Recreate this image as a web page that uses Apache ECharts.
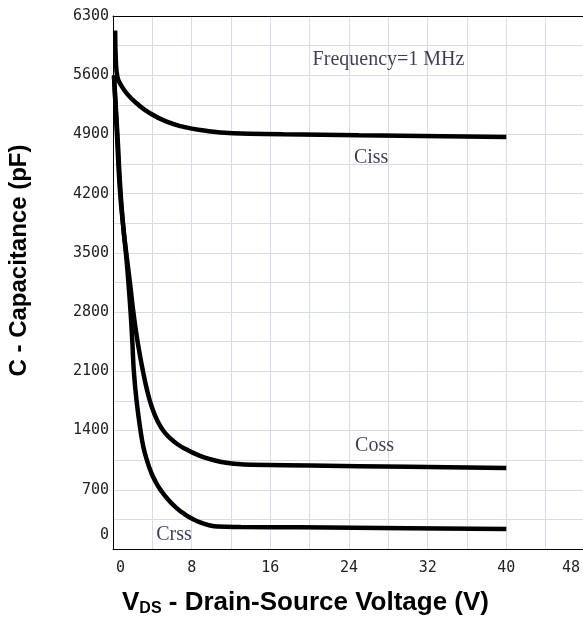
<!DOCTYPE html>
<html>
<head>
<meta charset="utf-8">
<script src="https://cdn.jsdelivr.net/npm/echarts@6/dist/echarts.min.js"></script>
<style>
html,body{margin:0;padding:0;background:#fff;}
#chart{width:583px;height:624px;}
</style>
</head>
<body>
<div id="chart"></div>
<script>
// V_DS (V) vs capacitance (pF)
const ciss = [[0.22,6130],[0.3,5750],[0.45,5580],[0.71,5504],[1.39,5386],[2.4,5268],[3.76,5150],[5.46,5051],[7.1,4992],[8.85,4953],[12.2,4914],[17.3,4902],[25,4890],[40,4870]];
const coss = [[0.1,5600],[0.4,4900],[0.7,4250],[1.05,3800],[1.4,3450],[1.75,3120],[2.07,2800],[2.5,2450],[3.05,2100],[3.5,1860],[4.0,1660],[4.5,1520],[5.1,1400],[5.8,1310],[6.6,1235],[7.5,1175],[8.5,1118],[9.6,1070],[10.9,1032],[12.4,1008],[14,995],[20,986],[30,972],[40,957]];
const crss = [[0.1,5580],[0.45,4900],[0.75,4250],[1.05,3800],[1.35,3450],[1.6,3100],[1.8,2780],[1.97,2440],[2.12,2100],[2.4,1750],[2.8,1400],[3.1,1200],[3.45,1050],[3.9,900],[4.4,780],[4.8,705],[5.6,585],[6.5,480],[7.3,410],[8.1,355],[9.0,308],[9.8,280],[10.6,265],[13,260],[19,256],[30,246],[40,236]];
const annotations = [
  {name:'Frequency=1 MHz', value:[20.3,5780], align:'left'},
  {name:'Ciss', value:[26.25,4622], align:'center'},
  {name:'Coss', value:[26.6,1217], align:'center'},
  {name:'Crss', value:[6.2,165], align:'center'}
];
const xTicks = {min:0, max:48, interval:8};
const yTicks = {min:0, max:6300, interval:700};

const gridColor = '#d5dbea';
const chart = echarts.init(document.getElementById('chart'));
const curve = (name, data) => ({
  name, type:'line', data, smooth:0.5, symbol:'none',
  lineStyle:{color:'#000', width:4.5}, silent:true
});
const rich = {
  v:{fontFamily:'Liberation Sans', fontWeight:'bold', fontSize:26, color:'#000'},
  sub:{fontFamily:'Liberation Sans', fontWeight:'bold', fontSize:16, color:'#000', padding:[12,0,0,0]}
};
const tickFont = {fontFamily:'DejaVu Sans Mono', fontSize:15, color:'#222'};
chart.setOption({
  animation:false,
  grid:{left:113, top:16, width:472, bottom:75, containLabel:false, outerBoundsMode:'none'},
  xAxis:[{
    type:'value', min:xTicks.min, max:xTicks.max, interval:xTicks.interval,
    name:'{v|V}{sub|DS}{v| - Drain-Source Voltage (V)}',
    nameLocation:'middle', nameGap:40,
    nameTextStyle:{padding:[0,87,0,0], rich},
    axisLine:{lineStyle:{color:'#000', width:1}},
    axisTick:{show:false},
    axisLabel:Object.assign({margin:12, alignMinLabel:'left', alignMaxLabel:'right',
      formatter:v => v === xTicks.max ? '{r|' + v + '}' : (v === xTicks.min ? '{l|' + v + '}' : String(v)),
      rich:{r:Object.assign({padding:[0,5,0,0]}, tickFont), l:Object.assign({padding:[0,0,0,3]}, tickFont)}}, tickFont),
    splitLine:{lineStyle:{color:gridColor, width:1}},
    minorTick:{show:false, splitNumber:2},
    minorSplitLine:{show:true, lineStyle:{color:gridColor, width:1}}
  },{
    type:'value', position:'top', min:xTicks.min, max:xTicks.max, interval:xTicks.interval,
    axisLine:{show:true, lineStyle:{color:'#000', width:1}},
    axisTick:{show:false}, axisLabel:{show:false}, splitLine:{show:false}
  }],
  yAxis:{
    type:'value', min:yTicks.min, max:yTicks.max, interval:yTicks.interval,
    name:'C - Capacitance (pF)', nameLocation:'middle', nameGap:82,
    nameTextStyle:{fontFamily:'Liberation Sans', fontWeight:'bold', fontSize:24, color:'#000', padding:[0,0,0,44]},
    axisLine:{show:true, lineStyle:{color:'#000', width:1}},
    axisTick:{show:false},
    axisLabel:Object.assign({margin:4, verticalAlignMinLabel:'bottom',
      formatter:v => v === yTicks.min ? '{z|' + v + '}' : String(v),
      rich:{z:Object.assign({padding:[0,0,6,0]}, tickFont)}}, tickFont),
    splitLine:{lineStyle:{color:gridColor, width:1}},
    minorTick:{show:false, splitNumber:2},
    minorSplitLine:{show:true, lineStyle:{color:gridColor, width:1}}
  },
  series:[
    curve('Ciss', ciss),
    curve('Coss', coss),
    curve('Crss', crss),
    {
      type:'scatter', symbolSize:0, silent:true,
      data:annotations.map(a => ({name:a.name, value:a.value, label:{align:a.align}})),
      label:{show:true, position:'inside', formatter:'{b}', fontFamily:'Liberation Serif', fontSize:20, color:'#0c0c2c'}
    }
  ]
});
</script>
</body>
</html>
